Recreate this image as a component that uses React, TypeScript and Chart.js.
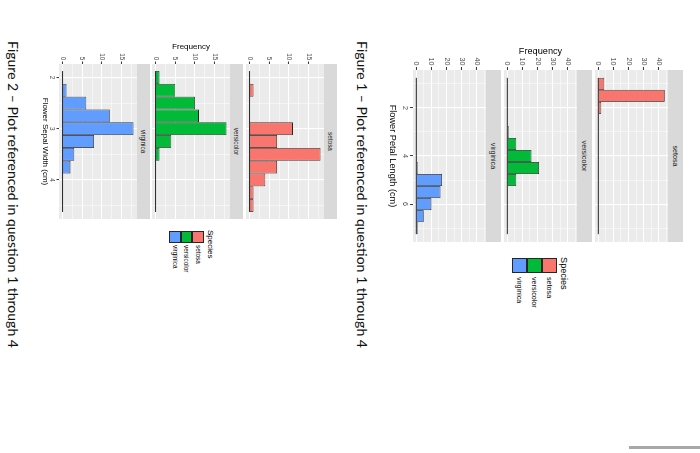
import { useEffect, useRef } from "react"
import { Chart, registerables } from "chart.js"

Chart.register(...registerables)

const SPECIES = ["setosa", "versicolor", "virginica"]
const SPECIES_COLORS = ["#F8766D", "#00BA38", "#619CFF"]

// Figure 1: petal length, bins 0.5 cm wide (bin centres)
const PETAL_BINS = [1, 1.5, 2, 2.5, 3, 3.5, 4, 4.5, 5, 5.5, 6, 6.5, 7]
const PETAL_SETOSA = [4, 44, 2, 0, 0, 0, 0, 0, 0, 0, 0, 0, 0]
const PETAL_VERSICOLOR = [0, 0, 0, 0, 1, 6, 16, 21, 6, 0, 0, 0, 0]
const PETAL_VIRGINICA = [0, 0, 0, 0, 0, 0, 0, 1, 17, 16, 10, 5, 1]
const PETAL_X_TICKS = [2, 4, 6]
const PETAL_X_MINOR = [1, 3, 5, 7]
const PETAL_Y_TICKS = [0, 10, 20, 30, 40]
const PETAL_Y_MINOR = [5, 15, 25, 35, 45]

// Figure 2: sepal width, bins 0.25 cm wide (bin centres)
const SEPAL_BINS = [2, 2.25, 2.5, 2.75, 3, 3.25, 3.5, 3.75, 4, 4.25, 4.5]
const SEPAL_SETOSA = [0, 1, 0, 0, 11, 7, 18, 7, 4, 1, 1]
const SEPAL_VERSICOLOR = [1, 5, 10, 11, 18, 4, 1, 0, 0, 0, 0]
const SEPAL_VIRGINICA = [0, 1, 6, 12, 18, 8, 3, 2, 0, 0, 0]
const SEPAL_X_TICKS = [2, 3, 4]
const SEPAL_X_MINOR = [2.5, 3.5, 4.5]
const SEPAL_Y_TICKS = [0, 5, 10, 15]
const SEPAL_Y_MINOR = [2.5, 7.5, 12.5, 17.5]

const FONT = '"Liberation Sans", Arial, sans-serif'
const CAPTION_FONT = 'Lato, "Liberation Sans", sans-serif'
const OUTLINE = "#262626"

interface Layout {
  canvasLeft: number
  axisW: number
  panelW: number
  panelH: number
  stripH: number
  stripTops: number[]
  xAxisH: number
  tickLen: number
  tickPad: number
  smallFont: number
  titleFont: number
  yTitleCenter: number
  legendLeft: number
  legendTitleTop: number
  keyTop: number
  keySize: number
  labelLeft: number
  captionTop: number
}

interface FigureSpec {
  bins: number[]
  series: number[][]
  xTicks: number[]
  xMinor: number[]
  yTicks: number[]
  yMinor: number[]
  xTitle: string
  caption: string
  layout: Layout
}

const FIGURES: FigureSpec[] = [
  {
    bins: PETAL_BINS,
    series: [PETAL_SETOSA, PETAL_VERSICOLOR, PETAL_VIRGINICA],
    xTicks: PETAL_X_TICKS,
    xMinor: PETAL_X_MINOR,
    yTicks: PETAL_Y_TICKS,
    yMinor: PETAL_Y_MINOR,
    xTitle: "Flower Petal Length (cm)",
    caption: "Figure 1 \u2013 Plot referenced in question 1 through 4",
    layout: {
      canvasLeft: 30,
      axisW: 40,
      panelW: 172,
      panelH: 73,
      stripH: 15,
      stripTops: [17, 108, 199],
      xAxisH: 26,
      tickLen: 3,
      tickPad: 1.5,
      smallFont: 7.2,
      titleFont: 9.2,
      yTitleCenter: 21,
      legendLeft: 258,
      legendTitleTop: 132,
      keyTop: 143,
      keySize: 15,
      labelLeft: 277,
      captionTop: 328.6,
    },
  },
  {
    bins: SEPAL_BINS,
    series: [SEPAL_SETOSA, SEPAL_VERSICOLOR, SEPAL_VIRGINICA],
    xTicks: SEPAL_X_TICKS,
    xMinor: SEPAL_X_MINOR,
    yTicks: SEPAL_Y_TICKS,
    yMinor: SEPAL_Y_MINOR,
    xTitle: "Flower Sepal Width (cm)",
    caption: "Figure 2 \u2013 Plot referenced in question 1 through 4",
    layout: {
      canvasLeft: 30,
      axisW: 34,
      panelW: 155,
      panelH: 78,
      stripH: 13,
      stripTops: [363, 457, 550],
      xAxisH: 19,
      tickLen: 2.5,
      tickPad: 1.2,
      smallFont: 6.4,
      titleFont: 8,
      yTitleCenter: 17,
      legendLeft: 231,
      legendTitleTop: 486,
      keyTop: 496,
      keySize: 11.5,
      labelLeft: 245,
      captionTop: 677.6,
    },
  },
]

// grey ggplot-style panel background
const panelBackground = {
  id: "panelBackground",
  beforeDraw(chart: Chart) {
    const { ctx, chartArea: a } = chart
    ctx.save()
    ctx.fillStyle = "#EBEBEB"
    ctx.fillRect(a.left, a.top, a.right - a.left, a.bottom - a.top)
    ctx.restore()
  },
}

function gridTicks(major: number[], minor: number[]) {
  return [
    ...major.map((v) => ({ value: v, minor: false })),
    ...minor.map((v) => ({ value: v, minor: true })),
  ].sort((a, b) => a.value - b.value)
}

function Panel({ fig, index }: { fig: FigureSpec; index: number }) {
  const ref = useRef<HTMLCanvasElement>(null)
  const L = fig.layout
  const isBottom = index === fig.series.length - 1
  const isMiddle = index === 1
  const width = L.axisW + L.panelW
  const height = L.panelH + (isBottom ? L.xAxisH : 0)
  const top = L.stripTops[index] + L.stripH

  useEffect(() => {
    if (!ref.current) return

    const step = fig.bins[1] - fig.bins[0]
    const lo = fig.bins[0] - step / 2
    const hi = fig.bins[fig.bins.length - 1] + step / 2
    const padX = (hi - lo) * 0.05
    const maxCount = Math.max(...fig.series.flat())
    const padY = maxCount * 0.05
    const counts = fig.series[index]

    const tickFont = { family: FONT, size: L.smallFont }
    const titleFont = { family: FONT, size: L.titleFont }

    const grid = (drawTicks: boolean) => ({
      color: "#FFFFFF",
      lineWidth: (c: any) => (c.tick && c.tick.minor ? 0.5 : 1.1),
      drawTicks,
      tickLength: L.tickLen,
      tickColor: (c: any) => (c.tick && c.tick.minor ? "rgba(0,0,0,0)" : "#333333"),
      tickWidth: 1,
      offset: false,
    })

    const label = (value: number, i: number, ticks: any[]) => (ticks[i].minor ? "" : String(value))

    const chart = new Chart(ref.current, {
      type: "bar",
      data: {
        datasets: [
          {
            type: "line",
            data: [
              { x: lo, y: 0 },
              { x: hi, y: 0 },
            ],
            borderColor: OUTLINE,
            borderWidth: 1,
            pointRadius: 0,
            order: 0,
          },
          {
            type: "bar",
            data: fig.bins.map((b, i) => ({ x: b, y: counts[i] })),
            backgroundColor: SPECIES_COLORS[index],
            borderColor: OUTLINE,
            borderWidth: 0.8,
            barPercentage: 1,
            categoryPercentage: 1,
            inflateAmount: 0,
            order: 1,
          },
        ] as any,
      },
      options: {
        animation: false,
        responsive: false,
        events: [],
        layout: { padding: 0 },
        plugins: { legend: { display: false }, tooltip: { enabled: false } },
        scales: {
          x: {
            type: "linear",
            min: lo - padX,
            max: hi + padX,
            offset: false,
            grid: grid(isBottom),
            border: { display: false },
            ticks: {
              display: isBottom,
              autoSkip: false,
              maxRotation: 0,
              padding: 1,
              color: "#4D4D4D",
              font: tickFont,
              callback: label as any,
            },
            title: {
              display: isBottom,
              text: fig.xTitle,
              color: "#000000",
              font: titleFont,
              padding: { top: 0, bottom: 0 },
            },
            afterBuildTicks: (s: any) => {
              s.ticks = gridTicks(fig.xTicks, fig.xMinor)
            },
            afterFit: (s: any) => {
              s.height = isBottom ? L.xAxisH : 0
              s.paddingLeft = 0
              s.paddingRight = 0
            },
          },
          y: {
            type: "linear",
            min: -padY,
            max: maxCount + padY,
            grid: grid(true),
            border: { display: false },
            ticks: {
              autoSkip: false,
              padding: L.tickPad,
              color: "#4D4D4D",
              font: tickFont,
              callback: label as any,
            },
            title: {
              display: isMiddle,
              text: "Frequency",
              color: "#000000",
              font: titleFont,
              padding: { top: L.yTitleCenter - (L.titleFont * 1.2) / 2, bottom: 0 },
            },
            afterBuildTicks: (s: any) => {
              s.ticks = gridTicks(fig.yTicks, fig.yMinor)
            },
            afterFit: (s: any) => {
              s.width = L.axisW
              s.paddingTop = 0
              s.paddingBottom = 0
            },
          },
        },
      },
      plugins: [panelBackground],
    } as any)

    return () => chart.destroy()
  }, [fig, index])

  return (
    <canvas
      ref={ref}
      width={width}
      height={height}
      style={{ position: "absolute", left: L.canvasLeft, top }}
    />
  )
}

function Figure({ fig }: { fig: FigureSpec }) {
  const L = fig.layout
  const panelLeft = L.canvasLeft + L.axisW
  return (
    <>
      {SPECIES.map((name, i) => (
        <div
          key={"strip-" + name}
          style={{
            position: "absolute",
            left: panelLeft,
            top: L.stripTops[i],
            width: L.panelW,
            height: L.stripH,
            background: "#D9D9D9",
            color: "#1A1A1A",
            fontFamily: FONT,
            fontSize: L.smallFont,
            display: "flex",
            alignItems: "center",
            justifyContent: "center",
          }}
        >
          {name}
        </div>
      ))}
      {SPECIES.map((name, i) => (
        <Panel key={"panel-" + name} fig={fig} index={i} />
      ))}
      <div
        style={{
          position: "absolute",
          left: L.legendLeft - 1,
          top: L.legendTitleTop,
          fontFamily: FONT,
          fontSize: L.titleFont,
          lineHeight: 1,
          color: "#000",
        }}
      >
        Species
      </div>
      {SPECIES.map((name, i) => (
        <div key={"legend-" + name}>
          <div
            style={{
              position: "absolute",
              left: L.legendLeft,
              top: L.keyTop + i * L.keySize,
              width: L.keySize,
              height: L.keySize,
              boxSizing: "border-box",
              border: "1px solid " + OUTLINE,
              background: SPECIES_COLORS[i],
            }}
          />
          <div
            style={{
              position: "absolute",
              left: L.labelLeft,
              top: L.keyTop + i * L.keySize,
              height: L.keySize,
              display: "flex",
              alignItems: "center",
              fontFamily: FONT,
              fontSize: L.smallFont,
              color: "#000",
              whiteSpace: "nowrap",
            }}
          >
            {name}
          </div>
        </div>
      ))}
      <div
        style={{
          position: "absolute",
          left: 41,
          top: L.captionTop,
          fontFamily: CAPTION_FONT,
          fontSize: 14,
          lineHeight: "18px",
          color: "#111",
          whiteSpace: "nowrap",
        }}
      >
        {fig.caption}
      </div>
    </>
  )
}

export default function App() {
  return (
    <div
      style={{
        position: "fixed",
        left: 0,
        top: 0,
        width: 700,
        height: 453,
        overflow: "hidden",
        background: "#FFFFFF",
      }}
    >
      {/* the scanned page is turned a quarter clockwise */}
      <div
        style={{
          position: "absolute",
          left: 0,
          top: 0,
          width: 453,
          height: 700,
          transformOrigin: "0 0",
          transform: "translate(700px, 0) rotate(90deg)",
        }}
      >
        {FIGURES.map((fig, i) => (
          <Figure key={i} fig={fig} />
        ))}
      </div>
      <div
        style={{
          position: "absolute",
          left: 629,
          top: 446,
          width: 71,
          height: 3,
          background: "#A8A8A8",
        }}
      />
    </div>
  )
}
